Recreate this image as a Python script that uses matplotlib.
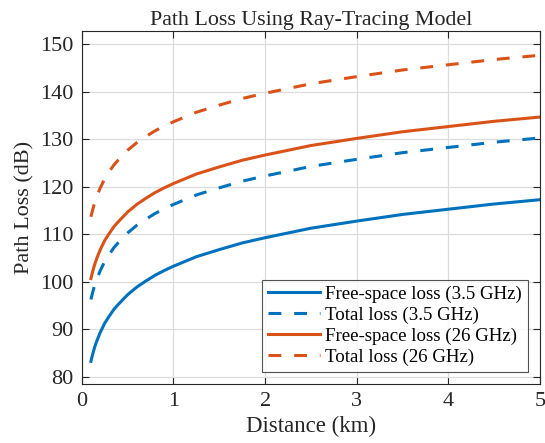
import matplotlib
matplotlib.use("Agg")
import matplotlib.pyplot as plt
import numpy as np

# valores (km, dB)
distance = [0.1, 0.11, 0.125, 0.14, 0.15, 0.175, 0.2, 0.225, 0.25, 0.3, 0.35, 0.4, 0.45, 0.5,
            0.6, 0.7, 0.8, 0.9, 1.0, 1.25, 1.5, 1.75, 2.0, 2.5, 3.0, 3.5, 4.0, 4.5, 5.0]
fs_35 = [83.3, 84.1, 85.2, 86.2, 86.8, 88.1, 89.3, 90.3, 91.3, 92.8, 94.2, 95.3, 96.3, 97.3,
         98.9, 100.2, 101.4, 102.4, 103.3, 105.3, 106.8, 108.2, 109.3, 111.3, 112.8, 114.2,
         115.3, 116.4, 117.3]
total_35 = [96.3, 97.1, 98.2, 99.2, 99.8, 101.1, 102.3, 103.3, 104.3, 105.8, 107.2, 108.3,
            109.3, 110.3, 111.9, 113.2, 114.4, 115.4, 116.3, 118.3, 119.8, 121.2, 122.3,
            124.3, 125.8, 127.2, 128.3, 129.4, 130.3]
fs_26 = [100.7, 101.5, 102.6, 103.6, 104.2, 105.5, 106.7, 107.7, 108.7, 110.2, 111.6, 112.7,
         113.7, 114.7, 116.3, 117.6, 118.8, 119.8, 120.7, 122.7, 124.2, 125.6, 126.7, 128.7,
         130.2, 131.6, 132.7, 133.8, 134.7]
total_26 = [113.7, 114.5, 115.6, 116.6, 117.2, 118.5, 119.7, 120.7, 121.7, 123.2, 124.6,
            125.7, 126.7, 127.7, 129.3, 130.6, 131.8, 132.8, 133.7, 135.7, 137.2, 138.6,
            139.7, 141.7, 143.2, 144.6, 145.7, 146.8, 147.7]

blue = "#0072BD"
orange = "#D95319"

plt.rcParams['font.family'] = ['Liberation Serif', 'DejaVu Serif']

fig = plt.figure(figsize=(5.45, 4.43), dpi=100)
ax = fig.add_axes([0.150, 0.133, 0.841, 0.797])

lw = 2.2
dash = (0, (4.2, 4.2))
ax.plot(distance, fs_35, color=blue, lw=lw, label="Free-space loss (3.5 GHz)")
ax.plot(distance, total_35, color=blue, lw=lw, ls=dash, label="Total loss (3.5 GHz)")
ax.plot(distance, fs_26, color=orange, lw=lw, label="Free-space loss (26 GHz)")
ax.plot(distance, total_26, color=orange, lw=lw, ls=dash, label="Total loss (26 GHz)")

ax.set_xlim(0, 5)
ax.set_ylim(78.5, 152.8)
ax.set_xticks([0, 1, 2, 3, 4, 5])
ax.set_yticks([80, 90, 100, 110, 120, 130, 140, 150])

ax.grid(True, color="#dcdcdc", lw=0.9)
ax.set_axisbelow(True)
for s in ax.spines.values():
    s.set_color("#262626")
    s.set_linewidth(0.8)
ax.tick_params(direction="in", top=True, right=True, labelsize=16,
               colors="#262626", length=5, width=0.8, pad=6)

ax.set_title("Path Loss Using Ray-Tracing Model", fontsize=15.8, color="#262626", pad=4)
ax.set_xlabel("Distance (km)", fontsize=16.5, color="#262626", labelpad=3)
ax.set_ylabel("Path Loss (dB)", fontsize=16, color="#262626", labelpad=4)

leg = ax.legend(loc="lower right", fontsize=13.6, frameon=True, fancybox=False,
                edgecolor="#262626", handlelength=2.75, borderpad=0.3,
                labelspacing=0.2, handletextpad=0.3, borderaxespad=0.65)
leg.get_frame().set_linewidth(0.8)

fig.savefig("out.png", dpi=100)
